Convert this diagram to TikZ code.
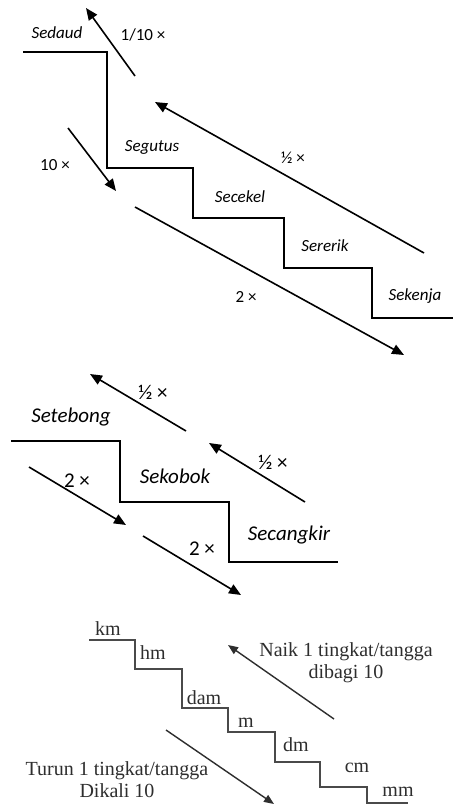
\documentclass[tikz,border=0pt]{standalone}
\usepackage{fontspec}
\setmainfont{Carlito}
\newfontfamily\timesf{Liberation Serif}
\usetikzlibrary{arrows.meta}
\definecolor{grayln}{HTML}{4A4A4A}
\definecolor{graytx}{HTML}{2E2E2E}
\tikzset{
  stair/.style={draw=black, line width=1.4pt, line join=miter},
  stairthick/.style={draw=black, line width=2.8pt, line join=miter},
  stairgray/.style={draw=grayln, line width=1.4pt, line join=miter},
  arr/.style={draw=black, line width=1.6pt, -{Triangle[length=12pt,width=10pt]}},
  arrg/.style={draw=graytx, line width=1.4pt, -{Triangle[length=10pt,width=8pt]}},
  lab/.style={inner sep=0pt, font=\fontsize{17}{19}\selectfont\itshape},
  num/.style={inner sep=0pt, font=\fontsize{17}{19}\selectfont},
  labb/.style={inner sep=0pt, font=\fontsize{21}{24}\selectfont\itshape},
  numb/.style={inner sep=0pt, font=\fontsize{21}{24}\selectfont},
  tlab/.style={inner sep=0pt, text=graytx, font=\timesf\fontsize{20}{22}\selectfont},
}
\begin{document}
\begin{tikzpicture}[x=1pt,y=-1pt]
\useasboundingbox[fill=white] (0,0) rectangle (453,808);
% ---------- Section 1 ----------
\draw[stair] (23,52) -- (107,52) -- (107,168) -- (193,168) -- (193,218) -- (284,218) -- (284,268) -- (372,268) -- (372,318) -- (453,318);
\node[lab] (sedaud) at (57,33) {Sedaud};
\node[lab] (segutus) at (152,147) {Segutus};
\node[lab] (secekel) at (240,197) {Secekel};
\node[lab] (sererik) at (325,246) {Sererik};
\node[lab] (sekenja) at (415,296) {Sekenja};
\node[num] (n110) at (143,35) {1/10 ×};
\node[num] (n10) at (55,165) {10 ×};
\node[num] (nhalf) at (293,158) {½ ×};
\node[num] (n2) at (246,297) {2 ×};
\coordinate (a1t) at (135,76); \coordinate (a1h) at (86,8);
\coordinate (a2t) at (424,253); \coordinate (a2h) at (155,102);
\coordinate (a3t) at (68,128); \coordinate (a3h) at (116,191);
\coordinate (a4t) at (135,207); \coordinate (a4h) at (404,355);
\draw[arr] (a1t) -- (a1h);
\draw[arr] (a2t) -- (a2h);
\draw[arr] (a3t) -- (a3h);
\draw[arr] (a4t) -- (a4h);
% ---------- Section 2 ----------
\draw[stairthick] (11,441) -- (120,441) -- (120,502) -- (229,502) -- (229,562) -- (338,562);
\node[labb] (setebong) at (71,417) {Setebong};
\node[labb] (sekobok) at (175,476) {Sekobok};
\node[labb] (secangkir) at (289,535) {Secangkir};
\node[numb] (h1) at (153,392) {½ ×};
\node[numb] (h2) at (273,462) {½ ×};
\node[numb] (t1) at (77,481) {2 ×};
\node[numb] (t2) at (202,549) {2 ×};
\coordinate (b1t) at (186,431); \coordinate (b1h) at (90,374);
\coordinate (b2t) at (305,502); \coordinate (b2h) at (209,443);
\coordinate (b3t) at (29,467); \coordinate (b3h) at (126,525);
\coordinate (b4t) at (143,536); \coordinate (b4h) at (241,595);
\draw[arr] (b1t) -- (b1h);
\draw[arr] (b2t) -- (b2h);
\draw[arr] (b3t) -- (b3h);
\draw[arr] (b4t) -- (b4h);
% ---------- Section 3 ----------
\draw[stairgray] (89,640) -- (135,640) -- (135,669) -- (182,669) -- (182,708) -- (228,708) -- (228,732) -- (275,732) -- (275,762) -- (320,762) -- (320,787) -- (367,787) -- (367,803) -- (408,803);
\node[tlab] (km) at (108,629) {km};
\node[tlab] (hm) at (153,653) {hm};
\node[tlab] (dam) at (204,698) {dam};
\node[tlab] (m) at (246,723) {m};
\node[tlab] (dm) at (296,745) {dm};
\node[tlab] (cm) at (357,768) {cm};
\node[tlab] (mm) at (398,792) {mm};
\node[tlab, align=center] (naik) at (346,663) {Naik 1 tingkat/tangga\\dibagi 10};
\node[tlab, align=center] (turun) at (117,780) {Turun 1 tingkat/tangga\\Dikali 10};
\coordinate (c1t) at (334,719); \coordinate (c1h) at (228,645);
\coordinate (c2t) at (166,730); \coordinate (c2h) at (274,804);
\draw[arrg] (c1t) -- (c1h);
\draw[arrg] (c2t) -- (c2h);
\end{tikzpicture}
\end{document}
